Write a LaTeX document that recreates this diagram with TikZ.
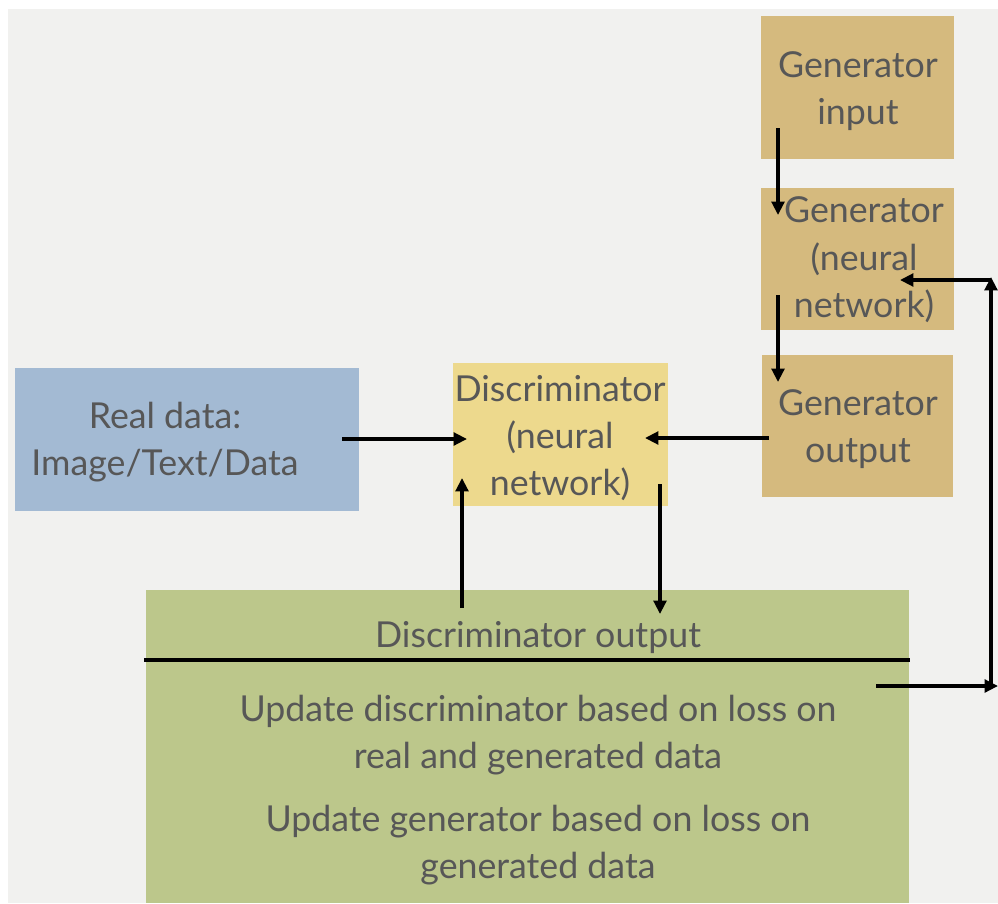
\documentclass[tikz,border=0pt]{standalone}
\usepackage{fontspec}
\setmainfont{Lato}
\usetikzlibrary{fit,arrows.meta}
\definecolor{bgc}{HTML}{F1F1EF}
\definecolor{tanc}{HTML}{D5BA7E}
\definecolor{yelc}{HTML}{EDD98D}
\definecolor{bluec}{HTML}{A3BAD3}
\definecolor{greenc}{HTML}{BCC78B}
\definecolor{txtc}{HTML}{575757}
\tikzset{
  box/.style={inner sep=0pt, draw=none},
  lbl/.style={text=txtc, align=center, font=\fontsize{26.8}{35.5}\selectfont, inner sep=0pt},
  arr/.style={line width=2.4pt, -{Triangle[length=10pt,width=9.5pt]}},
  plain/.style={line width=2.4pt}
}
\begin{document}
\begin{tikzpicture}[x=0.75pt,y=-0.75pt]
\useasboundingbox (0,0) rectangle (998,903);
\fill[white] (0,0) rectangle (998,903);
\fill[bgc] (8,9) rectangle (998,903);
% boxes
\node[box, fill=tanc, fit={(761,16) (954,159)}] (gin) {};
\node[box, fill=tanc, fit={(761,188) (954,330)}] (gnn) {};
\node[box, fill=tanc, fit={(762,355) (953,497)}] (gout) {};
\node[box, fill=yelc, fit={(453,363) (668,506)}] (disc) {};
\node[box, fill=bluec, fit={(15,368) (359,511)}] (real) {};
\node[box, fill=greenc, fit={(146,590) (909,903)}] (green) {};
% labels
\node[lbl] (tgin) at (858,91) {Generator\\input};
\node[lbl] (tgnn) at (864,260) {Generator\\(neural\\network)};
\node[lbl] (tgout) at (858,429) {Generator\\output};
\node[lbl] (tdisc) at (560,438) {Discriminator\\(neural\\network)};
\node[lbl] (treal) at (165,442) {Real data:\\Image/Text/Data};
\node[lbl] (tdo) at (538,638) {Discriminator output};
\node[lbl] (tu1) at (538,735) {Update discriminator based on loss on\\real and generated data};
\node[lbl] (tu2) at (538,845) {Update generator based on loss on\\generated data};
% separator line
\coordinate (sepL) at (144,660);
\coordinate (sepR) at (910,660);
\draw[plain] (sepL) -- (sepR);
% arrow points
\coordinate (a1s) at (778,128); \coordinate (a1e) at (778,215);
\coordinate (a2s) at (778,295); \coordinate (a2e) at (778,382);
\coordinate (a3s) at (769,438); \coordinate (a3e) at (645,438);
\coordinate (a4s) at (342,439); \coordinate (a4e) at (467,439);
\coordinate (a5s) at (462,608); \coordinate (a5e) at (462,478);
\coordinate (a6s) at (660,484); \coordinate (a6e) at (660,614);
\coordinate (l1) at (876,686); \coordinate (l2) at (998,686);
\coordinate (l3) at (991,686); \coordinate (l4) at (991,277);
\coordinate (l5) at (991,280); \coordinate (l6) at (900,280);
\draw[arr] (a1s) -- (a1e);
\draw[arr] (a2s) -- (a2e);
\draw[arr] (a3s) -- (a3e);
\draw[arr] (a4s) -- (a4e);
\draw[arr] (a5s) -- (a5e);
\draw[arr] (a6s) -- (a6e);
\draw[arr] (l1) -- (l2);
\draw[arr] (l3) -- (l4);
\draw[arr] (l5) -- (l6);
\end{tikzpicture}
\end{document}
